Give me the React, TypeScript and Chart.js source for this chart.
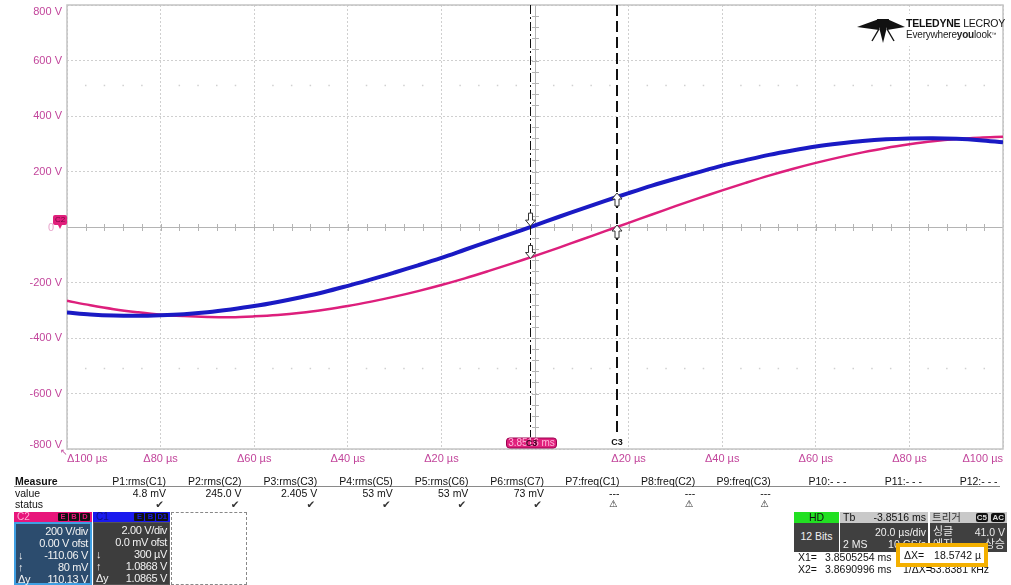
import React, { useEffect, useRef } from 'react';
import { Chart, registerables } from 'chart.js';

Chart.register(...registerables);

// ---------- data ----------
const times = [-100, -95, -90, -85, -80, -75, -70, -65, -60, -55, -50, -45, -40, -35, -30, -25, -20, -15, -10, -5, 0, 5, 10, 15, 20, 25, 30, 35, 40, 45, 50, 55, 60, 65, 70, 75, 80, 85, 90, 95, 100];
const c1Volts = [-308, -315, -319, -320, -318, -314, -307, -297, -285, -270, -253, -234, -212, -189, -164, -138, -111, -82, -53, -24, 6, 36, 65, 94, 122, 149, 174, 198, 221, 241, 260, 276, 290, 301, 310, 316, 319, 320, 318, 313, 305];
const c2Volts = [-266, -282, -296, -307, -316, -321, -324, -325, -322, -317, -309, -298, -285, -269, -251, -231, -209, -185, -159, -132, -104, -75, -45, -15, 15, 45, 75, 104, 132, 159, 185, 209, 231, 251, 269, 285, 298, 309, 317, 322, 325];

const xTickValues = [-100, -80, -60, -40, -20, 0, 20, 40, 60, 80, 100];
const xTickLabels = ['Δ100 µs', 'Δ80 µs', 'Δ60 µs', 'Δ40 µs', 'Δ20 µs', '', 'Δ20 µs', 'Δ40 µs', 'Δ60 µs', 'Δ80 µs', 'Δ100 µs'];
const yTickValues = [-800, -600, -400, -200, 0, 200, 400, 600, 800];
const dotRowVolts = [510, -510];

const cursorX1 = -1.0746; // µs relative to centre
const cursorX2 = 17.4996;
const cursorLabel = '3.8516 ms';

const measureHeaders = ['P1:rms(C1)', 'P2:rms(C2)', 'P3:rms(C3)', 'P4:rms(C5)', 'P5:rms(C6)', 'P6:rms(C7)', 'P7:freq(C1)', 'P8:freq(C2)', 'P9:freq(C3)', 'P10:- - -', 'P11:- - -', 'P12:- - -'];
const measureValues = ['4.8 mV', '245.0 V', '2.405 V', '53 mV', '53 mV', '73 mV', '---', '---', '---', '', '', ''];
const measureStatus = ['ok', 'ok', 'ok', 'ok', 'ok', 'ok', 'warn', 'warn', 'warn', '', '', ''];

const rowPrefixes = ['', '', '↓', '↑', 'Δy'];
const c2BoxLines = ['200 V/div', '0.00 V ofst', '-110.06 V', '80 mV', '110.13 V'];
const c1BoxLines = ['2.00 V/div', '0.0 mV ofst', '300 µV', '1.0868 V', '1.0865 V'];

const FONT = '"Liberation Sans", Arial, sans-serif';
const KFONT = '"Noto Sans CJK KR", sans-serif';
const TICK_COLOR = '#c2459b';
const yLabel = (v: number) => `${v} V`;

function interp(arr: number[], t: number) {
  for (let i = 0; i < times.length - 1; i++) {
    if (t >= times[i] && t <= times[i + 1]) {
      const f = (t - times[i]) / (times[i + 1] - times[i]);
      return arr[i] + f * (arr[i + 1] - arr[i]);
    }
  }
  return 0;
}

function drawArrow(ctx: CanvasRenderingContext2D, x: number, tipY: number, down: boolean) {
  const s = down ? -1 : 1; // direction from tip to tail
  ctx.beginPath();
  ctx.moveTo(x, tipY);
  ctx.lineTo(x - 5, tipY + s * 6);
  ctx.lineTo(x - 2, tipY + s * 6);
  ctx.lineTo(x - 2, tipY + s * 13);
  ctx.lineTo(x + 2, tipY + s * 13);
  ctx.lineTo(x + 2, tipY + s * 6);
  ctx.lineTo(x + 5, tipY + s * 6);
  ctx.closePath();
  ctx.fillStyle = '#ffffff';
  ctx.fill();
  ctx.strokeStyle = '#333';
  ctx.lineWidth = 1;
  ctx.setLineDash([]);
  ctx.stroke();
}

const scopePlugin = {
  id: 'scopeDecor',
  beforeDatasetsDraw(chart: any) {
    const { ctx, chartArea: a, scales } = chart;
    const x = scales.x, y = scales.y;
    ctx.save();
    // faint dot rows
    ctx.fillStyle = '#d0d0d0';
    for (const dv of dotRowVolts) {
      const py = y.getPixelForValue(dv);
      for (let t = -96; t < 100; t += 4) {
        if (t % 20 === 0) continue;
        ctx.fillRect(x.getPixelForValue(t) - 0.75, py - 0.75, 1.5, 1.5);
      }
    }
    // centre cross-hair with minor ticks
    const x0 = x.getPixelForValue(0), y0 = y.getPixelForValue(0);
    ctx.strokeStyle = '#b4b4b4';
    ctx.lineWidth = 1;
    ctx.beginPath();
    ctx.moveTo(a.left, y0 + 0.5); ctx.lineTo(a.right, y0 + 0.5);
    ctx.moveTo(x0 + 0.5, a.top); ctx.lineTo(x0 + 0.5, a.bottom);
    for (let t = -96; t < 100; t += 4) {
      const px = Math.round(x.getPixelForValue(t)) + 0.5;
      ctx.moveTo(px, y0 - 3); ctx.lineTo(px, y0 + 4);
    }
    for (let v = -760; v < 800; v += 40) {
      const py = Math.round(y.getPixelForValue(v)) + 0.5;
      ctx.moveTo(x0 - 3, py); ctx.lineTo(x0 + 4, py);
    }
    ctx.stroke();
    // plot frame
    ctx.strokeStyle = '#c4c4c4';
    ctx.lineWidth = 1.5;
    ctx.strokeRect(a.left, a.top, a.right - a.left, a.bottom - a.top);
    // end labels of the voltage axis, nudged inside like the scope does
    ctx.font = `11px ${FONT}`;
    ctx.fillStyle = TICK_COLOR;
    ctx.textAlign = 'right';
    ctx.textBaseline = 'middle';
    ctx.fillText(yLabel(yTickValues[yTickValues.length - 1]), a.left - 5, y.getPixelForValue(yTickValues[yTickValues.length - 1]) + 7);
    ctx.fillText(yLabel(yTickValues[0]), a.left - 5, y.getPixelForValue(yTickValues[0]) - 4);
    ctx.restore();
  },
  afterDatasetsDraw(chart: any) {
    const { ctx, chartArea: a, scales } = chart;
    const x = scales.x, y = scales.y;
    ctx.save();
    const px1 = Math.round(x.getPixelForValue(cursorX1)) + 0.5;
    const px2 = Math.round(x.getPixelForValue(cursorX2));
    // cursor 1 : dash-dot
    ctx.strokeStyle = '#111';
    ctx.lineWidth = 1;
    ctx.setLineDash([9, 3, 2, 3]);
    ctx.beginPath(); ctx.moveTo(px1, a.top); ctx.lineTo(px1, a.bottom - 12); ctx.stroke();
    // cursor 2 : dashed
    ctx.lineWidth = 2;
    ctx.setLineDash([11, 5]);
    ctx.beginPath(); ctx.moveTo(px2, a.top); ctx.lineTo(px2, a.bottom - 12); ctx.stroke();
    ctx.setLineDash([]);
    // cursor arrows at trace crossings
    drawArrow(ctx, px1, y.getPixelForValue(interp(c1Volts, cursorX1)) - 1, true);
    drawArrow(ctx, px1, y.getPixelForValue(interp(c2Volts, cursorX1)) + 1, true);
    drawArrow(ctx, px2, y.getPixelForValue(interp(c1Volts, cursorX2)) - 4, false);
    drawArrow(ctx, px2, y.getPixelForValue(interp(c2Volts, cursorX2)) - 2, false);
    // cursor bottom labels
    ctx.font = `bold 9px ${FONT}`;
    ctx.textAlign = 'center';
    ctx.textBaseline = 'middle';
    ctx.fillStyle = '#111';
    ctx.fillText('C3', px2, a.bottom - 6);
    const bw = 50, bh = 10, by = a.bottom - 11;
    ctx.fillStyle = '#e0207c';
    ctx.beginPath();
    (ctx as any).roundRect(px1 - 24, by, bw, bh, 3);
    ctx.fill();
    ctx.strokeStyle = '#9a0050';
    ctx.lineWidth = 1;
    ctx.stroke();
    ctx.font = `10px ${FONT}`;
    ctx.fillStyle = '#ffb8dc';
    ctx.fillText(cursorLabel, px1 + 1, by + bh / 2 + 0.5);
    ctx.font = `bold 9px ${FONT}`;
    ctx.fillStyle = '#3a0020';
    ctx.fillText('C3', px1 + 1, by + bh / 2 + 0.5);
    // C2 ground marker
    const y0 = y.getPixelForValue(0);
    ctx.fillStyle = '#e0207c';
    ctx.beginPath();
    (ctx as any).roundRect(a.left - 14, y0 - 12, 14, 10, 2);
    ctx.fill();
    ctx.beginPath();
    ctx.moveTo(a.left - 9, y0 - 2); ctx.lineTo(a.left - 5, y0 - 2); ctx.lineTo(a.left - 7, y0 + 2); ctx.closePath();
    ctx.fill();
    ctx.font = `8px ${FONT}`;
    ctx.fillStyle = '#7a0040';
    ctx.fillText('C2', a.left - 7, y0 - 7);
    ctx.font = `11px ${FONT}`;
    ctx.fillStyle = '#e8a6cd';
    ctx.fillText('0', a.left - 16, y0 + 1);
    // small time-axis marker
    ctx.font = `9px ${FONT}`;
    ctx.fillStyle = TICK_COLOR;
    ctx.fillText('↖', a.left - 3, a.bottom + 4);
    ctx.restore();
  },
};

function ChannelBox(props: { left: number; width: number; headColor: string; label: string; labelColor: string; badgeColor: string; badges: string[]; bodyColor: string; border: string; lines: string[] }) {
  const { left, width, headColor, label, labelColor, badgeColor, badges, bodyColor, border, lines } = props;
  return (
    <div style={{ position: 'absolute', left, top: 512, width, height: 73, fontFamily: FONT }}>
      <div style={{ position: 'absolute', left: 0, top: 0, width, height: 10, background: headColor, overflow: 'hidden' }}>
        <span style={{ position: 'absolute', left: 3, top: -1, fontSize: 10, lineHeight: '11px', color: labelColor }}>{label}</span>
        <div style={{ position: 'absolute', right: 2, top: 1, display: 'flex', gap: 1 }}>
          {badges.map((b, i) => (
            <span key={i} style={{ display: 'inline-block', minWidth: 8, height: 8, lineHeight: '8px', background: '#111', color: badgeColor, fontSize: 7.5, fontWeight: 'bold', textAlign: 'center', borderRadius: 1, padding: '0 1px' }}>{b}</span>
          ))}
        </div>
      </div>
      <div style={{ position: 'absolute', left: 0, top: 10, width, height: 63, background: bodyColor, border, boxSizing: 'border-box' }}>
        {lines.map((l, i) => (
          <div key={i} style={{ position: 'absolute', left: 0, right: 2, top: 1 + i * 12, height: 12, lineHeight: '12px', fontSize: 11, letterSpacing: -0.35, color: '#f2f2f2', textAlign: 'right', whiteSpace: 'nowrap' }}>
            <span style={{ position: 'absolute', left: 2 }}>{rowPrefixes[i]}</span>
            {l}
          </div>
        ))}
      </div>
    </div>
  );
}

export default function App() {
  const canvasRef = useRef<HTMLCanvasElement | null>(null);

  useEffect(() => {
    const canvas = canvasRef.current;
    if (!canvas) return;
    const yMin = yTickValues[0], yMax = yTickValues[yTickValues.length - 1];
    const chart = new Chart(canvas, {
      type: 'line',
      data: {
        datasets: [
          {
            label: 'C1',
            data: times.map((t, i) => ({ x: t, y: c1Volts[i] })),
            borderColor: '#1a1ac4',
            borderWidth: 4,
            pointRadius: 0,
            tension: 0.35,
          },
          {
            label: 'C2',
            data: times.map((t, i) => ({ x: t, y: c2Volts[i] })),
            borderColor: '#dd1f7c',
            borderWidth: 2.5,
            pointRadius: 0,
            tension: 0.35,
          },
        ],
      },
      options: {
        responsive: false,
        animation: false,
        events: [],
        layout: { padding: { top: 5, right: 8, left: 0, bottom: 0 } },
        plugins: { legend: { display: false }, tooltip: { enabled: false }, title: { display: false } },
        scales: {
          x: {
            type: 'linear',
            min: -100,
            max: 100,
            afterBuildTicks: (s: any) => { s.ticks = xTickValues.map((v) => ({ value: v })); },
            afterFit: (s: any) => { s.height = 136; s.paddingLeft = 0; s.paddingRight = 0; },
            grid: { color: '#cfcfcf', drawTicks: false, lineWidth: 1 },
            border: { display: false, dash: [2, 2] },
            ticks: {
              padding: 3,
              align: 'inner',
              maxRotation: 0,
              autoSkip: false,
              color: TICK_COLOR,
              font: { family: FONT, size: 11 },
              callback: (_v: any, i: number) => xTickLabels[i],
            },
          },
          y: {
            type: 'linear',
            min: yMin,
            max: yMax,
            afterBuildTicks: (s: any) => { s.ticks = yTickValues.map((v) => ({ value: v })); },
            afterFit: (s: any) => { s.width = 67; s.paddingTop = 0; s.paddingBottom = 0; },
            grid: { color: '#cfcfcf', drawTicks: false, lineWidth: 1 },
            border: { display: false, dash: [2, 2] },
            ticks: {
              padding: 5,
              color: TICK_COLOR,
              font: { family: FONT, size: 11 },
              // 0 carries the channel marker; the two end labels are drawn nudged inward by the plugin
              callback: (v: any) => (v === 0 || v === yMin || v === yMax ? '' : yLabel(v)),
            },
          },
        },
      } as any,
      plugins: [scopePlugin as any],
    });
    return () => chart.destroy();
  }, []);

  const colRight = (i: number) => 166 + i * 75.6;
  const readout = { position: 'absolute' as const, fontSize: 10.5, lineHeight: '12px', color: '#111', whiteSpace: 'pre' as const };

  return (
    <div style={{ position: 'fixed', left: 0, top: 0, width: 1011, height: 585, background: '#fff', overflow: 'hidden', fontFamily: FONT }}>
      <canvas ref={canvasRef} width={1011} height={585} style={{ position: 'absolute', left: 0, top: 0 }} />

      {/* logo */}
      <div style={{ position: 'absolute', left: 852, top: 14, width: 148, height: 32, background: '#fff' }}>
        <svg width={52} height={30} style={{ position: 'absolute', left: 3, top: 3 }}>
          <polygon points="2,10 24,2 24,13" fill="#111" />
          <polygon points="22,2 34,2 28,26" fill="#111" />
          <polygon points="32,2 50,10 32,13" fill="#111" />
          <line x1="24" y1="12" x2="17" y2="24" stroke="#111" strokeWidth="1.4" />
          <line x1="32" y1="12" x2="39" y2="24" stroke="#111" strokeWidth="1.4" />
        </svg>
        <div style={{ position: 'absolute', left: 54, top: 4, fontSize: 10.5, lineHeight: '11px', color: '#111', whiteSpace: 'nowrap', letterSpacing: -0.2 }}>
          <b>TELEDYNE</b> LECROY
        </div>
        <div style={{ position: 'absolute', left: 54, top: 15, fontSize: 10, lineHeight: '11px', color: '#222', whiteSpace: 'nowrap', letterSpacing: -0.2 }}>
          Everywhere<b>you</b>look<span style={{ fontSize: 5, verticalAlign: 'top' }}>™</span>
        </div>
      </div>

      {/* measure table */}
      <div style={{ position: 'absolute', left: 15, top: 475, fontSize: 10.5, fontWeight: 'bold', color: '#111', lineHeight: '12px' }}>Measure</div>
      <div style={{ position: 'absolute', left: 15, top: 487, fontSize: 10.5, color: '#111', lineHeight: '12px' }}>value</div>
      <div style={{ position: 'absolute', left: 15, top: 498, fontSize: 10.5, color: '#111', lineHeight: '12px' }}>status</div>
      <div style={{ position: 'absolute', left: 14, top: 486, width: 986, height: 1, background: '#8a8a8a' }} />
      {measureHeaders.map((h, i) => (
        <div key={'h' + i} style={{ position: 'absolute', left: colRight(i) - 75, width: 75, top: 475, fontSize: 10.5, lineHeight: '12px', color: '#111', textAlign: 'right', whiteSpace: 'nowrap' }}>{h}</div>
      ))}
      {measureValues.map((v, i) => (
        <div key={'v' + i} style={{ position: 'absolute', left: colRight(i) - 75, width: 75, top: 487, fontSize: 10.5, lineHeight: '12px', color: '#111', textAlign: 'right', whiteSpace: 'nowrap' }}>{v}</div>
      ))}
      {measureStatus.map((s, i) => (
        <div key={'s' + i} style={{ position: 'absolute', left: colRight(i) - 75, width: 73, top: 498, fontSize: s === 'ok' ? 10.5 : 9.5, lineHeight: '12px', color: '#333', textAlign: 'right', fontFamily: '"DejaVu Sans", sans-serif' }}>
          {s === 'ok' ? '✔' : s === 'warn' ? '⚠' : ''}
        </div>
      ))}

      {/* channel boxes */}
      <ChannelBox left={14} width={78} headColor="#e8157b" label="C2" labelColor="#ffb0d8" badgeColor="#e8157b" badges={['E', 'B', 'D']} bodyColor="#2c4c6e" border="2px solid #3f9fe2" lines={c2BoxLines} />
      <ChannelBox left={93} width={77} headColor="#1a1aee" label="C1" labelColor="#101080" badgeColor="#1a1aee" badges={['E', 'B', 'D1']} bodyColor="#3d3d3d" border="1px solid #555" lines={c1BoxLines} />
      <div style={{ position: 'absolute', left: 171, top: 512, width: 76, height: 73, border: '1px dashed #888', boxSizing: 'border-box' }} />

      {/* acquisition / timebase / trigger */}
      <div style={{ position: 'absolute', left: 794, top: 512, width: 45, height: 11, background: '#22e022', color: '#111', fontSize: 10.5, lineHeight: '11px', textAlign: 'center' }}>HD</div>
      <div style={{ position: 'absolute', left: 794, top: 523, width: 45, height: 29, background: '#404040', color: '#f0f0f0', fontSize: 10.5, lineHeight: '26px', textAlign: 'center' }}>12 Bits</div>

      <div style={{ position: 'absolute', left: 840, top: 512, width: 88, height: 11, background: '#c9c9c9', color: '#111', fontSize: 10.5, lineHeight: '11px' }}>
        <span style={{ position: 'absolute', left: 3 }}>Tb</span>
        <span style={{ position: 'absolute', right: 2 }}>-3.8516 ms</span>
      </div>
      <div style={{ position: 'absolute', left: 840, top: 523, width: 88, height: 29, background: '#404040', color: '#f0f0f0', fontSize: 10.5, lineHeight: '12px' }}>
        <span style={{ position: 'absolute', right: 2, top: 3 }}>20.0 µs/div</span>
        <span style={{ position: 'absolute', left: 3, top: 15 }}>2 MS</span>
        <span style={{ position: 'absolute', right: 2, top: 15 }}>10 GS/s</span>
      </div>

      <div style={{ position: 'absolute', left: 930, top: 512, width: 77, height: 11, background: '#c9c9c9', color: '#333', fontSize: 10.5, lineHeight: '11px', fontFamily: KFONT }}>
        <span style={{ position: 'absolute', left: 2, top: -1 }}>트리거</span>
        <span style={{ position: 'absolute', right: 19, top: 1, height: 9, lineHeight: '9px', background: '#111', color: '#ddd', fontSize: 8, fontFamily: FONT, fontWeight: 'bold', padding: '0 1px', borderRadius: 2 }}>C5</span>
        <span style={{ position: 'absolute', right: 2, top: 1, height: 9, lineHeight: '9px', background: '#111', color: '#ddd', fontSize: 8, fontFamily: FONT, fontWeight: 'bold', padding: '0 1px', borderRadius: 2 }}>AC</span>
      </div>
      <div style={{ position: 'absolute', left: 930, top: 523, width: 77, height: 29, background: '#404040', color: '#eaeaea', fontSize: 11, lineHeight: '12px', fontFamily: KFONT }}>
        <span style={{ position: 'absolute', left: 3, top: 1 }}>싱글</span>
        <span style={{ position: 'absolute', right: 2, top: 3, fontFamily: FONT, fontSize: 10.5 }}>41.0 V</span>
        <span style={{ position: 'absolute', left: 3, top: 14 }}>에지</span>
        <span style={{ position: 'absolute', right: 2, top: 14 }}>상승</span>
      </div>

      {/* cursor readouts */}
      <div style={{ ...readout, left: 798, top: 551 }}>X1=</div>
      <div style={{ ...readout, left: 825, top: 551 }}>3.8505254 ms</div>
      <div style={{ ...readout, left: 798, top: 563 }}>X2=</div>
      <div style={{ ...readout, left: 825, top: 563 }}>3.8690996 ms</div>
      <div style={{ ...readout, left: 903, top: 563, width: 86 }}>
        <span>1/ΔX=</span>
        <span style={{ position: 'absolute', right: 0 }}>53.8381 kHz</span>
      </div>
      <div style={{ position: 'absolute', left: 896, top: 543, width: 92, height: 24, border: '4px solid #f4b000', background: '#fff', boxSizing: 'border-box' }}>
        <span style={{ position: 'absolute', left: 4, top: 2, fontSize: 10.5, lineHeight: '13px', color: '#111' }}>ΔX=</span>
        <span style={{ position: 'absolute', right: 3, top: 2, fontSize: 10.5, lineHeight: '13px', color: '#111' }}>18.5742 µ</span>
      </div>
    </div>
  );
}
